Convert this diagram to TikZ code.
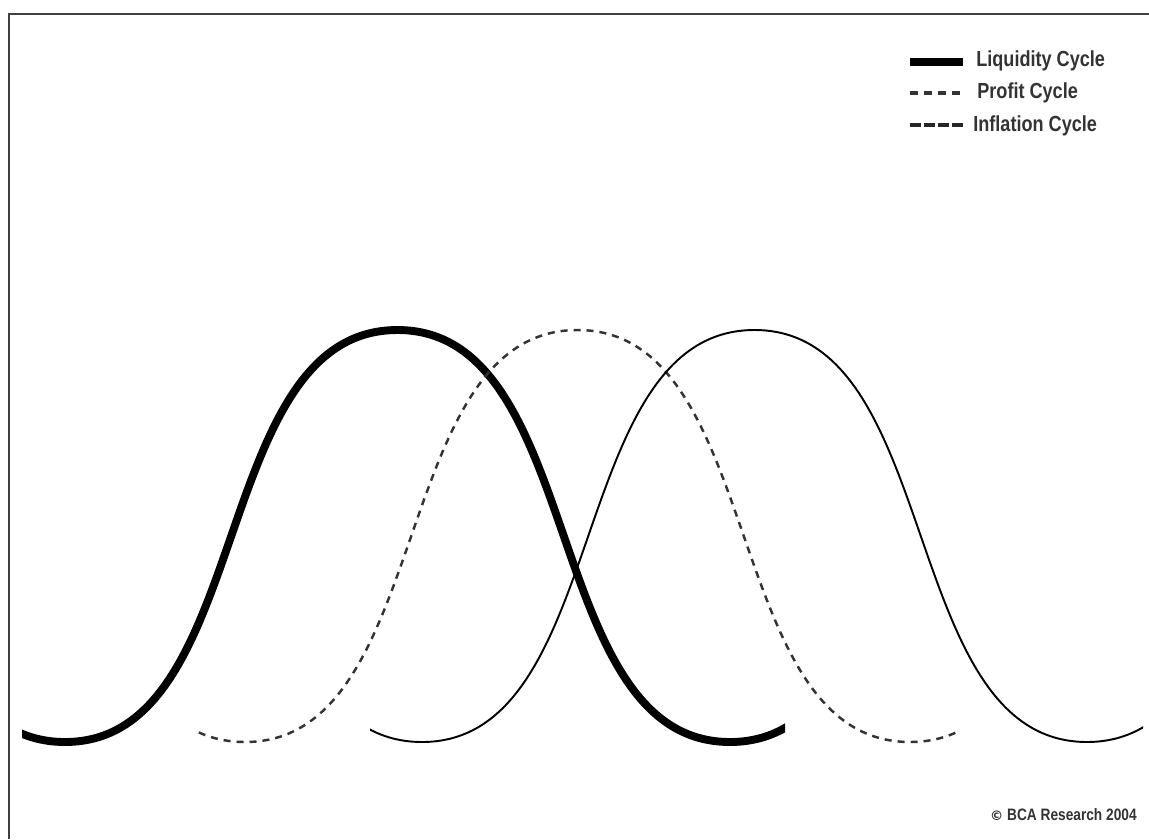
\documentclass[tikz,border=0pt]{standalone}
\usepackage{fontspec}
\newfontfamily\legfont[FakeStretch=0.83]{Liberation Sans}
\begin{document}
\begin{tikzpicture}[x=0.02cm,y=-0.02cm,
  frame/.style={draw=black!75,line width=1.7pt},
  liq/.style={line width=4.5pt},
  prof/.style={line width=1.4pt,dash pattern=on 4pt off 3.4pt,draw=black!80},
  infl/.style={line width=1.1pt},
  legtext/.style={anchor=west,inner sep=0pt,text=black!80,font=\legfont\bfseries\fontsize{12.4}{14}\selectfont},
  copytext/.style={anchor=east,inner sep=0pt,text=black!80,font=\legfont\bfseries\fontsize{9.4}{11}\selectfont}]
\useasboundingbox (0,0) rectangle (1149,839);
\fill[white] (0,0) rectangle (1149,839);
% frame
\draw[frame] (9,839) -- (9,14) -- (1149,14);
% liquidity cycle
\begin{scope}
\clip (22,300) rectangle (785,790);
\draw[liq] (-267.5,330) .. controls (-78,330) and (-124.5,742) .. (65,742)
  .. controls (254.5,742) and (208,330) .. (397.5,330)
  .. controls (587,330) and (540.5,742) .. (730,742)
  .. controls (919.5,742) and (873,330) .. (1062.5,330);
\end{scope}
% profit cycle
\begin{scope}
\clip (197,300) rectangle (957,790);
\draw[prof] (-87.5,330) .. controls (102,330) and (55.5,742) .. (245,742)
  .. controls (434.5,742) and (388,330) .. (577.5,330)
  .. controls (767,330) and (720.5,742) .. (910,742)
  .. controls (1099.5,742) and (1053,330) .. (1242.5,330);
\end{scope}
% inflation cycle
\begin{scope}
\clip (370,300) rectangle (1143,790);
\draw[infl] (89.5,330) .. controls (279,330) and (232.5,742) .. (422,742)
  .. controls (611.5,742) and (565,330) .. (754.5,330)
  .. controls (944,330) and (897.5,742) .. (1087,742)
  .. controls (1276.5,742) and (1230,330) .. (1419.5,330);
\end{scope}
% legend
\coordinate (l1a) at (910,62); \coordinate (l1b) at (963,62);
\coordinate (l2a) at (910,93); \coordinate (l2b) at (963,93);
\coordinate (l3a) at (910,125); \coordinate (l3b) at (963,125);
\draw[line width=5pt] (l1a) -- (l1b);
\draw[line width=1.8pt,dash pattern=on 4.6pt off 3.4pt,draw=black!80] (l2a) -- (l2b);
\draw[line width=2.2pt,dash pattern=on 6.2pt off 1.8pt,draw=black!85] (l3a) -- (l3b);
\node[legtext] (t1) at (976,61) {Liquidity Cycle};
\node[legtext] (t2) at (977,93) {Profit Cycle};
\node[legtext] (t3) at (973,126) {Inflation Cycle};
\node[copytext] (cp) at (1137,815) {\fontspec{DejaVu Sans}\bfseries\fontsize{7.5}{9}\selectfont ©\legfont\bfseries\fontsize{9.4}{11}\selectfont\ BCA Research 2004};
\end{tikzpicture}
\end{document}
